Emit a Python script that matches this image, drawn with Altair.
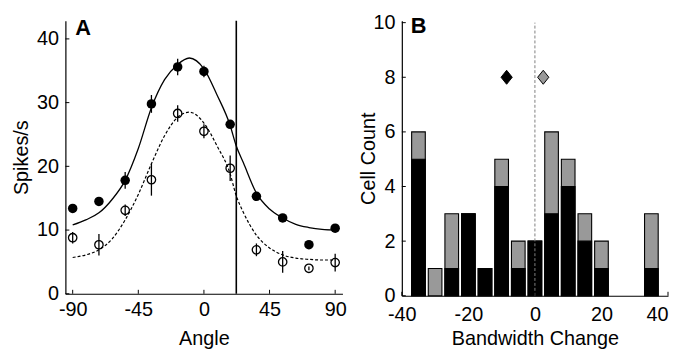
import altair as alt
import pandas as pd

FONT = "Liberation Sans"

# ---------------- Panel A data ----------------
angles = [-90, -72, -54, -36, -18, 0, 18, 36, 54, 72, 90]
filled_rate = [13.4, 14.5, 17.8, 29.8, 35.6, 34.9, 26.6, 15.3, 11.9, 7.7, 10.3]
filled_err = [0.5, 0.5, 1.3, 1.4, 1.3, 0.9, 0.6, 0.5, 0.5, 0.5, 0.5]
open_rate = [8.8, 7.7, 13.1, 17.9, 28.3, 25.5, 19.7, 6.9, 5.0, 4.0, 4.9]
open_err = [0.9, 1.7, 0.9, 2.5, 1.3, 1.1, 2.0, 1.0, 1.7, 0.3, 1.4]

fit_angles = [-90, -81, -72, -63, -54, -45, -36, -27, -18, -10, 0, 9, 18, 22, 27, 36, 45, 54, 63, 72, 81, 90]
fit_solid = [10.8, 11.6, 12.7, 14.8, 17.8, 22.8, 29.2, 33.6, 36.0, 37.0, 35.3, 31.2, 26.4, 23.3, 20.6, 15.8, 13.3, 11.9, 10.9, 10.4, 10.1, 10.0]
fit_dashed = [5.7, 6.1, 6.9, 8.6, 11.6, 15.6, 20.4, 24.8, 27.7, 28.5, 26.8, 23.2, 18.8, 15.5, 12.8, 9.2, 7.2, 6.1, 5.6, 5.4, 5.3, 5.3]

vline_angle = [22.2]
a_xticks = [-90, -45, 0, 45, 90]
a_yticks = [0, 10, 20, 30, 40]

# ---------------- Panel B data ----------------
bin_centers = [-35, -30, -25, -20, -15, -10, -5, 0, 5, 10, 15, 20, 25, 30, 35]
count_black = [5, 0, 1, 3, 1, 4, 1, 2, 3, 4, 2, 1, 0, 0, 1]
count_total = [6, 1, 3, 3, 1, 5, 2, 2, 6, 5, 3, 2, 0, 0, 3]
bar_half_width = 2.05

diamond_x = [-8.5, 2.5]
diamond_y = [8, 8]
diamond_fill = ["#000000", "#999999"]

b_xticks = [-40, -20, 0, 20, 40]
b_yticks = [0, 2, 4, 6, 8, 10]

# ---------------- sizes ----------------
W_A, H_A = 280, 276
W_B, H_B = 269, 278

xA = alt.Scale(domain=[-95, 95], nice=False, zero=False)
yA = alt.Scale(domain=[0, 42.86], nice=False)
xB = alt.Scale(domain=[-40, 40], nice=False, zero=False)
yB = alt.Scale(domain=[0, 10.072], nice=False)

LABEL_EXPR = "toString(datum.value)"

axA_x = alt.Axis(values=a_xticks, title="Angle", labelFlush=False, labelExpr=LABEL_EXPR,
                 labelPadding=6, titlePadding=9)
axA_y = alt.Axis(values=a_yticks, title="Spikes/s", labelExpr=LABEL_EXPR,
                 labelPadding=7, titlePadding=5)
axB_x = alt.Axis(values=b_xticks, title="Bandwidth Change", labelFlush=False, labelExpr=LABEL_EXPR,
                 labelAlign={"condition": {"test": "datum.value == 40", "value": "right"}, "value": "center"},
                 labelPadding=9, titlePadding=4)
axB_y = alt.Axis(values=b_yticks, title="Cell Count", labelExpr=LABEL_EXPR,
                 labelPadding=7, titlePadding=-6)


def XA(field):
    return alt.X(field, type="quantitative", scale=xA, axis=axA_x)


def YA(field):
    return alt.Y(field, type="quantitative", scale=yA, axis=axA_y)


def XB(field):
    return alt.X(field, type="quantitative", scale=xB, axis=axB_x)


def YB(field):
    return alt.Y(field, type="quantitative", scale=yB, axis=axB_y)


pts = pd.DataFrame({
    "angle": angles,
    "filled": filled_rate,
    "ferr": filled_err,
    "open": open_rate,
    "oerr": open_err,
})
fits = pd.DataFrame({"angle": fit_angles, "solid": fit_solid, "dashed": fit_dashed})

solid_line = alt.Chart(fits).mark_line(color="black", strokeWidth=1.3, interpolate="monotone").encode(
    x=XA("angle"), y=YA("solid"))
dashed_line = alt.Chart(fits).mark_line(color="black", strokeWidth=1.2, strokeDash=[3, 2],
                                        interpolate="monotone").encode(
    x=XA("angle"), y=YA("dashed"))
vline = alt.Chart(pd.DataFrame({"a": vline_angle})).mark_rule(color="black", strokeWidth=1.6).encode(
    x=XA("a"), y=alt.value(0), y2=alt.value(H_A))
filled_pts = alt.Chart(pts).mark_point(filled=True, shape="circle", size=92, color="black", opacity=1).encode(
    x=XA("angle"), y=YA("filled"))
open_pts = alt.Chart(pts).mark_point(filled=False, shape="circle", size=72, color="black",
                                     strokeWidth=1.3, opacity=1).encode(
    x=XA("angle"), y=YA("open"))
ferr_bars = alt.Chart(pts).transform_calculate(
    lo="datum.filled - datum.ferr", hi="datum.filled + datum.ferr"
).mark_rule(color="black", strokeWidth=1.3).encode(x=XA("angle"), y=YA("lo:Q"), y2="hi:Q")
oerr_bars = alt.Chart(pts).transform_calculate(
    lo="datum.open - datum.oerr", hi="datum.open + datum.oerr"
).mark_rule(color="black", strokeWidth=1.3).encode(x=XA("angle"), y=YA("lo:Q"), y2="hi:Q")

a_ytick_marks = alt.Chart(pd.DataFrame({"v": a_yticks})).mark_rule(color="black", strokeWidth=1).encode(
    y=YA("v"), x=alt.value(0), x2=alt.value(4))
a_xtick_marks = alt.Chart(pd.DataFrame({"v": a_xticks})).mark_rule(color="black", strokeWidth=1).encode(
    x=XA("v"), y=alt.value(H_A), y2=alt.value(H_A - 4))
label_a = alt.Chart(pd.DataFrame({"t": ["A"]})).mark_text(
    font=FONT, fontSize=22, fontWeight="bold", align="left", baseline="alphabetic", color="black"
).encode(text="t:N", x=alt.value(10), y=alt.value(14))

panel_a = alt.layer(
    solid_line, dashed_line, vline, filled_pts, open_pts, ferr_bars, oerr_bars,
    a_ytick_marks, a_xtick_marks, label_a
).properties(width=W_A, height=H_A)

# ---------------- Panel B ----------------
bars = pd.DataFrame({"c": bin_centers, "black": count_black, "total": count_total})
bars_src = alt.Chart(bars).transform_calculate(
    lo=f"datum.c - {bar_half_width}", hi=f"datum.c + {bar_half_width}", zero="0"
)
gray_bars = bars_src.transform_filter("datum.total > 0").mark_bar(
    fill="#999999", stroke="black", strokeWidth=1.1, opacity=1
).encode(x=XB("lo:Q"), x2="hi:Q", y=YB("total"), y2="zero:Q")
black_bars = bars_src.transform_filter("datum.black > 0").mark_bar(
    fill="black", stroke="black", strokeWidth=1.1, opacity=1
).encode(x=XB("lo:Q"), x2="hi:Q", y=YB("black"), y2="zero:Q")

zero_line = alt.Chart(pd.DataFrame({"x0": [0], "y0": [0], "y1": [10]})).mark_rule(
    color="#808080", strokeWidth=1, strokeDash=[3, 2]
).encode(x=XB("x0"), y=YB("y0"), y2="y1:Q")

diam = pd.DataFrame({"x": diamond_x, "y": diamond_y, "f": diamond_fill})
diamonds = alt.Chart(diam).mark_point(
    shape="M-0.8,0L0,-1L0.8,0L0,1Z", size=200, filled=True, stroke="black", strokeWidth=1, opacity=1
).encode(x=XB("x"), y=YB("y"), fill=alt.Fill("f:N", scale=None))

b_ytick_marks = alt.Chart(pd.DataFrame({"v": b_yticks})).mark_rule(color="black", strokeWidth=1).encode(
    y=YB("v"), x=alt.value(0), x2=alt.value(4))
b_xtick_marks = alt.Chart(pd.DataFrame({"v": b_xticks})).mark_rule(color="black", strokeWidth=1).encode(
    x=XB("v"), y=alt.value(H_B), y2=alt.value(H_B - 4))
label_b = alt.Chart(pd.DataFrame({"t": ["B"]})).mark_text(
    font=FONT, fontSize=22, fontWeight="bold", align="left", baseline="alphabetic", color="black"
).encode(text="t:N", x=alt.value(9), y=alt.value(12))

panel_b = alt.layer(
    gray_bars, black_bars, zero_line, diamonds, b_ytick_marks, b_xtick_marks, label_b
).properties(width=W_B, height=H_B)

chart = alt.hconcat(panel_a, panel_b, spacing=12).configure(
    font=FONT,
    padding={"left": 3, "top": 2, "right": 0, "bottom": 0},
    background="white",
).configure_view(stroke=None).configure_axis(
    grid=False,
    domainColor="black",
    domainWidth=1.2,
    tickSize=0,
    labelFont=FONT,
    labelFontSize=20,
    labelColor="black",
    labelOverlap=False,
    titleFont=FONT,
    titleFontSize=20,
    titleFontWeight="normal",
    titleColor="black",
)

chart.save("out.html", embed_options={"renderer": "svg", "actions": False})
